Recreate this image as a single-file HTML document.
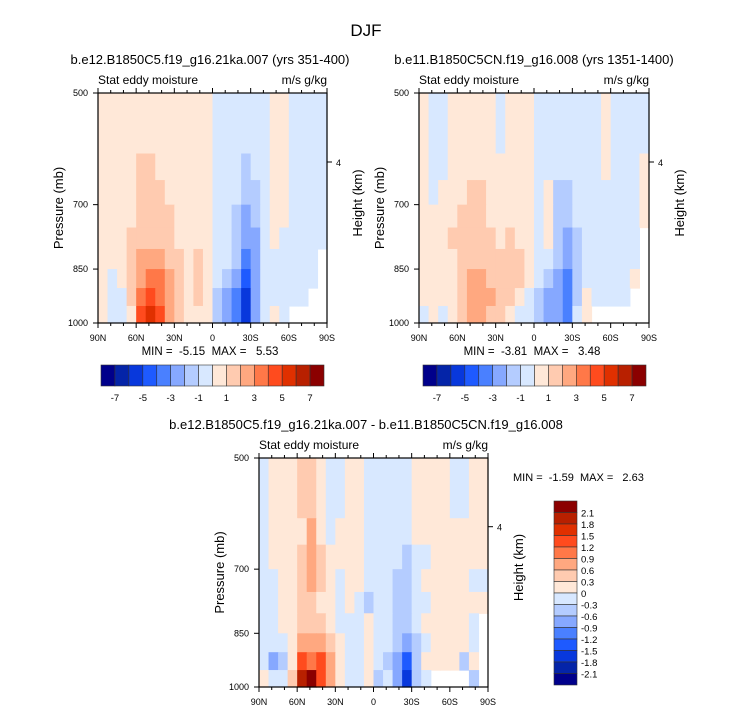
<!DOCTYPE html>
<html><head><meta charset="utf-8"><style>
html,body{margin:0;padding:0;background:#fff}
svg{display:block;font-family:"Liberation Sans",sans-serif}
text{white-space:pre}
</style></head><body>
<svg id="s" width="733" height="712" viewBox="0 0 733 712" xmlns="http://www.w3.org/2000/svg">
<text x="366" y="36" font-size="17" text-anchor="middle">DJF</text>
</svg>
<script>
// Color palette (16 levels)
const colors=["#00008B","#0424A8","#0838DC","#1E5AFF","#4A80FF","#86A8FF","#B4CCFF","#D8E8FF","#FFE8D8","#FFCBB0","#FFA880","#FF7848","#FF4B1E","#E03000","#B82000","#8B0000"];
const latLabels=["90N","60N","30N","0","30S","60S","90S"];
const presTicks=[500,700,850,1000];
const presBands=[500,550,600,650,700,750,800,850,900,950,1000];
const levels1=[-7,-6,-5,-4,-3,-2,-1,0,1,2,3,4,5,6,7];
const levels3=[-2.1,-1.8,-1.5,-1.2,-0.9,-0.6,-0.3,0,0.3,0.6,0.9,1.2,1.5,1.8,2.1];
const barLabels1=["-7","-5","-3","-1","1","3","5","7"];
const barLabels3=["2.1","1.8","1.5","1.2","0.9","0.6","0.3","0","-0.3","-0.6","-0.9","-1.2","-1.5","-1.8","-2.1"];
const N=null;
const field1=[
[.5,.5,.5,.5,.5,.5,.5,.5,.5,.5,.5,.5,-.5,-.5,-.5,-.5,-.5,-.5,.5,.5,-.5,-.5,-.5,-.5],
[.5,.5,.5,.5,.5,.5,.5,.5,.5,.5,.5,.5,-.5,-.5,-.5,-.5,-.5,-.5,.5,.5,-.5,-.5,-.5,-.5],
[.5,.5,.5,.5,1.5,1.5,.5,.5,.5,.5,.5,.5,-.5,-.5,-.5,-1.5,-.5,-.5,.5,.5,-.5,-.5,-.5,-.5],
[.5,.5,.5,.5,1.5,1.5,1.5,.5,.5,.5,.5,.5,-.5,-.5,-.5,-1.5,-1.5,-.5,.5,.5,-.5,-.5,-.5,-.5],
[.5,.5,.5,.5,1.5,1.5,1.5,1.5,.5,.5,.5,.5,-.5,-.5,-1.5,-2.5,-1.5,-.5,.5,.5,-.5,-.5,-.5,-.5],
[.5,.5,.5,1.5,1.5,1.5,1.5,1.5,.5,.5,.5,.5,-.5,-.5,-1.5,-2.5,-2.5,-.5,.5,-.5,-.5,-.5,-.5,-.5],
[.5,.5,.5,1.5,2.5,2.5,2.5,1.5,1.5,.5,1.5,.5,-.5,-.5,-1.5,-3.5,-2.5,-.5,-.5,-.5,-.5,-.5,-.5,N],
[.5,-.5,.5,1.5,2.5,3.5,3.5,2.5,1.5,.5,1.5,.5,-.5,-1.5,-2.5,-4.5,-2.5,-.5,-.5,-.5,-.5,-.5,-.5,N],
[.5,-.5,-.5,1.5,3.5,4.5,3.5,2.5,1.5,.5,1.5,.5,-1.5,-2.5,-3.5,-5.5,-2.5,-.5,-.5,-.5,-.5,-.5,N,N],
[.5,-.5,-.5,.5,4.5,5.5,4.5,2.5,1.5,.5,.5,.5,-1.5,-2.5,-3.5,-5.5,-2.5,-.5,.5,-.5,N,N,N,N]];
const field2=[
[.5,-.5,-.5,.5,.5,.5,.5,.5,-.5,.5,.5,.5,-.5,-.5,-.5,-.5,-.5,-.5,-.5,.5,-.5,-.5,-.5,-.5],
[.5,-.5,-.5,.5,.5,.5,.5,.5,-.5,.5,.5,.5,-.5,-.5,-.5,-.5,-.5,-.5,-.5,.5,-.5,-.5,-.5,-.5],
[.5,-.5,-.5,.5,.5,.5,.5,.5,.5,.5,.5,.5,-.5,-.5,-.5,-.5,-.5,-.5,-.5,.5,-.5,-.5,-.5,.5],
[.5,-.5,.5,.5,.5,1.5,1.5,.5,.5,.5,.5,.5,-.5,.5,-1.5,-1.5,-.5,-.5,-.5,-.5,-.5,-.5,-.5,.5],
[.5,.5,.5,.5,1.5,1.5,1.5,.5,.5,.5,.5,.5,-.5,.5,-1.5,-1.5,-.5,-.5,-.5,-.5,-.5,-.5,-.5,.5],
[.5,.5,.5,1.5,1.5,1.5,1.5,1.5,.5,1.5,.5,.5,-.5,.5,-1.5,-2.5,-1.5,-.5,-.5,-.5,-.5,-.5,-.5,N],
[.5,.5,.5,.5,1.5,1.5,1.5,1.5,1.5,1.5,1.5,.5,-.5,-.5,-1.5,-2.5,-1.5,-.5,-.5,-.5,-.5,-.5,-.5,N],
[.5,.5,.5,.5,1.5,2.5,2.5,1.5,1.5,1.5,1.5,.5,-.5,-1.5,-2.5,-3.5,-1.5,-.5,-.5,-.5,-.5,-.5,.5,N],
[.5,.5,.5,.5,1.5,2.5,2.5,2.5,1.5,1.5,.5,-.5,-1.5,-2.5,-2.5,-3.5,-1.5,.5,-.5,-.5,-.5,-.5,N,N],
[-.5,.5,-.5,.5,1.5,2.5,2.5,1.5,1.5,.5,-.5,-.5,-1.5,-2.5,-2.5,-3.5,-.5,.5,N,N,N,N,N,N]];
const field3=[
[-.15,.15,.15,.15,.45,.45,.15,-.15,-.15,.15,.15,-.15,-.15,-.15,-.15,-.15,.15,.15,.15,.15,-.15,-.15,.15,.15],
[-.15,.15,.15,.15,.45,.45,.15,-.15,-.15,.15,.15,-.15,-.15,-.15,-.15,-.15,.15,.15,.15,.15,-.15,-.15,.15,.15],
[-.15,.15,.15,.15,.15,.75,.15,-.15,.15,.15,.15,-.15,-.15,-.15,-.15,-.15,.15,.15,.15,.15,.15,.15,.15,.15],
[-.15,.15,.15,.15,.45,.75,.45,.15,.15,.15,.15,-.15,-.15,-.15,-.15,-.45,-.15,-.15,.15,.15,.15,.15,.15,.15],
[-.15,-.15,.15,.15,.45,.75,.45,.15,-.15,.15,.15,-.15,-.15,-.15,-.45,-.45,-.15,.15,.15,.15,.15,.15,-.15,-.15],
[-.15,-.15,.15,.15,.45,.45,.15,.15,-.15,.15,-.15,-.45,-.15,-.15,-.45,-.45,-.15,-.15,.15,.15,.15,.15,.15,.15],
[-.15,-.15,.15,.15,.45,.45,.45,.15,-.15,-.15,-.15,.15,-.15,-.15,-.45,-.45,-.15,.15,.15,.15,.15,.15,-.15,N],
[-.15,-.15,-.15,.15,.75,.75,.75,.45,.15,-.15,-.15,.15,-.15,-.15,-.45,-.75,-.45,-.15,.15,.15,.15,.15,-.15,N],
[-.15,-.75,-.45,.15,1.35,1.05,1.35,.75,.15,-.15,-.15,.15,-.15,-.45,-.75,-1.35,-.45,.15,.15,.15,.15,-.45,.15,N],
[.15,-.15,-.15,.45,1.95,2.4,1.35,.75,.15,-.15,-.15,.15,-.45,-.15,-.75,-1.65,-.45,-.15,N,N,N,N,-.45,N]];

const svg=document.getElementById('s');
const NS="http://www.w3.org/2000/svg";
function mk(tag,attrs,parent){const e=document.createElementNS(NS,tag);for(const k in attrs)e.setAttribute(k,attrs[k]);(parent||svg).appendChild(e);return e;}
function txt(x,y,s,size,anchor,parent){const t=mk('text',{x:x,y:y,'font-size':size,'text-anchor':anchor||'start'},parent);t.textContent=s;return t;}
function colorFor(v,levels){let i=0;while(i<levels.length&&v>levels[i])i++;return colors[i];}

function panel(px,py,w,h,field,levels,title,titleX,name){
  const g=mk('g',{});
  
  
  const xs=lat=>px+(90-lat)/180*w;
  const ys=p=>py+(Math.log(p)-Math.log(500))/(Math.log(1000)-Math.log(500))*h;
  const ncol=field[0].length;
  field.forEach((row,ri)=>{
    row.forEach((v,ci)=>{
      if(v===null)return;
      const x0=xs(90-ci*180/ncol),x1=xs(90-(ci+1)*180/ncol);
      const y0=ys(presBands[ri]),y1=ys(presBands[ri+1]);
      const r=mk('rect',{x:x0.toFixed(2),y:y0.toFixed(2),width:(x1-x0+0.6).toFixed(2),height:(y1-y0+0.6).toFixed(2),fill:colorFor(v,levels)},g);
      
      
    });
  });
  mk('rect',{x:px,y:py,width:w,height:h,fill:'none',stroke:'#000','stroke-width':1.2},g);
  for(let lat=90;lat>=-90;lat-=10){
    const x=xs(lat);const major=lat%30===0;
    mk('line',{x1:x,y1:py+h,x2:x,y2:py+h+(major?5:3),stroke:'#000'},g);
    mk('line',{x1:x,y1:py,x2:x,y2:py-(major?5:3),stroke:'#000'},g);
  }
  latLabels.forEach((l,i)=>{const t=txt(xs(90-i*30),py+h+18,l,9,'middle',g);});
  presTicks.forEach(p=>{
    mk('line',{x1:px,y1:ys(p),x2:px-5,y2:ys(p),stroke:'#000'},g);
    const t=txt(px-10,ys(p)+3,String(p),9,'end',g);
    
    
  });
  const y4=py+h*0.3;
  mk('line',{x1:px+w,y1:y4,x2:px+w+5,y2:y4,stroke:'#000'},g);
  txt(px+w+9,y4+4,'4',9,'start',g);
  const t1=txt(titleX,py-29,title,13,'middle',g);
  
  
  txt(px,py-9,'Stat eddy moisture',12,'start',g);
  txt(px+w,py-9,'m/s g/kg',12,'end',g);
  const yl=txt(0,0,'Pressure (mb)',13,'middle',g);
  yl.setAttribute('transform',`translate(${px-35},${py+h/2}) rotate(-90)`);
  
  
  const hl=txt(0,0,'Height (km)',13,'middle',g);
  hl.setAttribute('transform',`translate(${px+w+35},${py+h/2-5}) rotate(-90)`);
  
  
  return g;
}
panel(98,93,229,230,field1,levels1,'b.e12.B1850C5.f19_g16.21ka.007 (yrs 351-400)',210,'panel-21ka');
panel(419,93,230,230,field2,levels1,'b.e11.B1850C5CN.f19_g16.008 (yrs 1351-1400)',534,'panel-control');
panel(259,458,229,229,field3,levels3,'b.e12.B1850C5.f19_g16.21ka.007 - b.e11.B1850C5CN.f19_g16.008',366,'panel-difference');

function hbar(x,y,w,h,name){
  const g=mk('g',{});
  
  
  const cw=w/16;
  colors.forEach((c,i)=>mk('rect',{x:x+i*cw,y:y,width:cw,height:h,fill:c,stroke:'#333','stroke-width':0.6},g));
  barLabels1.forEach((l,i)=>txt(x+(2*i+1)*cw,y+h+15,l,9.5,'middle',g));
}
hbar(101,365,223,21,'colorbar-21ka');
hbar(423,365,223,21,'colorbar-control');
txt(210,355,'MIN =  -5.15  MAX =   5.53',11.5,'middle');
txt(532,355,'MIN =  -3.81  MAX =   3.48',11.5,'middle');
txt(513,481,'MIN =  -1.59  MAX =   2.63',11,'start');
(function(){
  const g=mk('g',{});
  
  
  const x=554,y=501,w=23,h=184,ch=h/16;
  colors.slice().reverse().forEach((c,i)=>mk('rect',{x:x,y:y+i*ch,width:w,height:ch,fill:c,stroke:'#333','stroke-width':0.6},g));
  barLabels3.forEach((l,i)=>txt(581,y+(i+1)*ch+4,l,9.5,'start',g));
})();
</script>
</body></html>
